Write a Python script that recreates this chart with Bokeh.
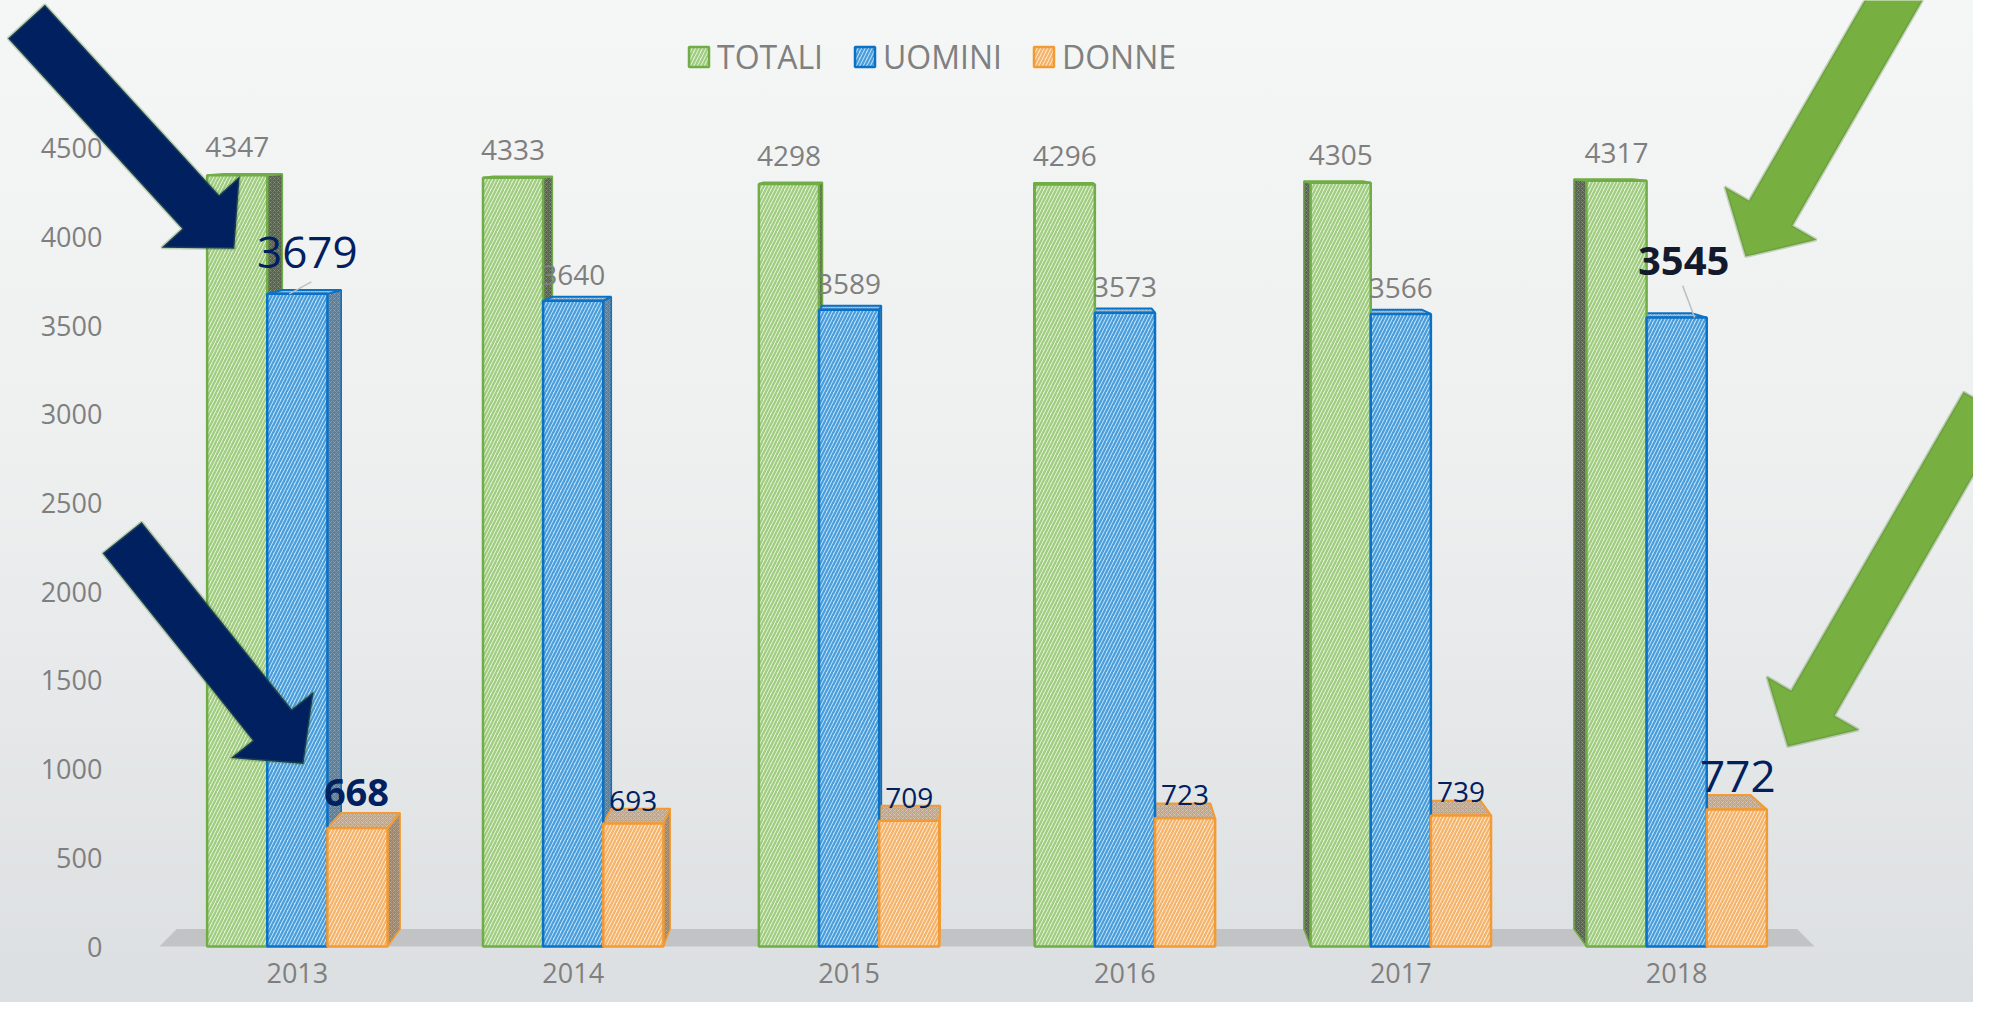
import numpy as np
from bokeh.plotting import figure
from bokeh.models import (ColumnDataSource, FactorRange, Range1d, FixedTicker, PolyAnnotation,
                          LinearAxis, CategoricalAxis)
from bokeh.transform import dodge
from bokeh.core.properties import value
from bokeh.embed import file_html
from bokeh.resources import INLINE

# ---------------- data ----------------
years = ["2013", "2014", "2015", "2016", "2017", "2018"]
totali = [4347, 4333, 4298, 4296, 4305, 4317]
uomini = [3679, 3640, 3589, 3573, 3566, 3545]
donne = [668, 693, 709, 723, 739, 772]
series_names = ["TOTALI", "UOMINI", "DONNE"]
y_ticks = [0, 500, 1000, 1500, 2000, 2500, 3000, 3500, 4000, 4500]

series_values = {"TOTALI": totali, "UOMINI": uomini, "DONNE": donne}

# ---------------- geometry ----------------
W, H = 1973, 1002
PAD = 0.576                       # category padding on each side
PXU = W / (len(years) + 2 * PAD)  # pixels per category unit
PXV = 0.1774                      # pixels per value unit
BASE = 946                        # canvas row of value 0
Y_START = -(H - BASE) / PXV
Y_END = BASE / PXV

GRAY = "#7f7f7f"
NAVY = "#002060"
FONT = "Open Sans"

p = figure(x_range=FactorRange(factors=years, range_padding=PAD, range_padding_units="absolute"),
           y_range=Range1d(Y_START, Y_END),
           width=W, height=H, output_backend="svg", toolbar_location=None,
           x_axis_location=None, y_axis_location=None,
           min_border=0, min_border_left=0, min_border_right=0, min_border_top=0,
           min_border_bottom=0, background_fill_color=None,
           border_fill_color=None, outline_line_color=None)
p.styles = {"background": "linear-gradient(180deg, #f5f6f6 0%, #eef0f0 45%, #dcdfe1 100%)"}

p.xgrid.visible = False
p.ygrid.visible = False

yax = LinearAxis(fixed_location=0, ticker=FixedTicker(ticks=y_ticks))
xax = CategoricalAxis(fixed_location=0)
for ax in (xax, yax):
    ax.axis_line_color = None
    ax.major_tick_line_color = None
    ax.minor_tick_line_color = None
    ax.major_tick_out = 0
    ax.major_tick_in = 0
    ax.major_label_text_font = FONT
    ax.major_label_text_font_size = "27px"
    ax.major_label_text_color = GRAY
yax.major_label_standoff = 57
xax.major_label_standoff = 16
p.add_layout(yax, "left")
p.add_layout(xax, "below")

styles = {
    "TOTALI": dict(line="#70ad47", fill="#e4f1d9", hatch="#9fcc7f", side="#58634e", top="#aebd9e"),
    "UOMINI": dict(line="#0a72c6", fill="#c3e3f8", hatch="#4a9ddb", side="#5d7d96", top="#8fb2cf"),
    "DONNE": dict(line="#f29b35", fill="#fde9d2", hatch="#f5b36a", side="#9e866c", top="#bfa68a"),
}
offs = {"TOTALI": -0.218, "UOMINI": 0.0, "DONNE": 0.218}
BW = 0.218

# simple perspective for the 3D faces
U_VP, V_VP, K = 3.0, 4700.0, 0.021


def back(u, v):
    return u + (U_VP - u) * K, v + (V_VP - v) * K


# floor
n = len(years)
b0 = back(0, 0)
b1 = back(n, 0)
p.patch([0, b0[0], b1[0], n], [0, b0[1], b1[1], 0], fill_color="#c2c3c4", line_color=None)

src = ColumnDataSource(dict(year=years, TOTALI=totali, UOMINI=uomini, DONNE=donne))

# 3D side and top faces
for name in series_names:
    st = styles[name]
    xs_side, ys_side, xs_top, ys_top = [], [], [], []
    for i, v in enumerate(series_values[name]):
        c = i + 0.5 + offs[name]
        l, r = c - BW / 2, c + BW / 2
        lb, tb = back(l, v)
        rb, _ = back(r, v)
        e = r if c < U_VP else l
        eb, zb = back(e, 0)
        xs_side.append([e, e, eb, eb])
        ys_side.append([0, v, tb, zb])
        xs_top.append([l, r, rb, lb])
        ys_top.append([v, v, tb, tb])
    p.patches(xs_side, ys_side, fill_color=st["side"], line_color=st["line"], line_width=1.5,
              hatch_pattern="x", hatch_scale=4, hatch_color="#ffffff", hatch_alpha=0.25,
              hatch_weight=0.7)
    p.patches(xs_top, ys_top, fill_color=st["top"], line_color=st["line"], line_width=2,
              hatch_pattern="x", hatch_scale=4, hatch_color="#ffffff", hatch_alpha=0.35,
              hatch_weight=0.7)

# front faces
for name in series_names:
    st = styles[name]
    p.vbar(x=dodge("year", offs[name], range=p.x_range), top=name, width=BW, source=src,
           fill_color=st["fill"], line_color=st["line"], line_width=2.5,
           hatch_pattern="/", hatch_color=st["hatch"], hatch_scale=7, hatch_weight=2.2,
           legend_label=name)

# ---------------- labels ----------------
default = {"TOTALI": dict(color=GRAY, size=28, bold=False, dx=0, dy=-28),
           "UOMINI": dict(color=GRAY, size=28, bold=False, dx=0, dy=-26),
           "DONNE": dict(color=NAVY, size=28, bold=False, dx=0, dy=-23)}
special = {("UOMINI", 0): dict(color=NAVY, size=44, bold=False, dx=10, dy=-41),
           ("DONNE", 0): dict(color=NAVY, size=38, bold=True, dx=-1, dy=-35),
           ("UOMINI", 5): dict(color="#141a2e", size=40, bold=True, dx=7, dy=-57),
           ("DONNE", 5): dict(color=NAVY, size=44, bold=False, dx=1, dy=-33)}

lab = {False: dict(x=[], y=[], text=[], color=[], size=[], xo=[], yo=[]),
       True: dict(x=[], y=[], text=[], color=[], size=[], xo=[], yo=[])}
for name in series_names:
    for i, v in enumerate(series_values[name]):
        s = special.get((name, i), default[name])
        d = lab[s["bold"]]
        d["x"].append(i + 0.5 + offs[name])
        d["y"].append(v)
        d["text"].append(str(v))
        d["color"].append(s["color"])
        d["size"].append(f'{s["size"]}px')
        d["xo"].append(s["dx"])
        d["yo"].append(s["dy"])

for bold, d in lab.items():
    p.text(x="x", y="y", text="text", source=ColumnDataSource(d), text_color="color",
           text_font_size="size", x_offset="xo", y_offset="yo", text_align="center",
           text_baseline="middle", text_font=value(FONT),
           text_font_style="bold" if bold else "normal")


def px2data(u, v, dx, dy):
    return u + dx / PXU, v - dy / PXV


# leader lines
leaders = [(("UOMINI", 0), (-8, 0), (14, -12)), (("UOMINI", 5), (18, 0), (6, -32))]
lx0, ly0, lx1, ly1 = [], [], [], []
for (name, i), a, b in leaders:
    u, v = i + 0.5 + offs[name], series_values[name][i]
    x0, y0 = px2data(u, v, *a)
    x1, y1 = px2data(u, v, *b)
    lx0.append(x0); ly0.append(y0); lx1.append(x1); ly1.append(y1)
p.segment(lx0, ly0, lx1, ly1, line_color="#bfbfbf", line_width=1.5)

# ---------------- arrows (annotations pointing at highlighted labels) ----------------
GREEN_FILL = "#77b041"
OUTLINE = "#548235"
arrows = [(("UOMINI", 0), (-63, -45), (0.675, 0.738), 258, NAVY),
          (("DONNE", 0), (-54, -64), (0.625, 0.78), 240, NAVY),
          (("UOMINI", 5), (69, -61), (-0.5, 0.866), 290, GREEN_FILL),
          (("DONNE", 5), (51, -63), (-0.5, 0.866), 345, GREEN_FILL)]
SHAFT_W, HEAD_W, HEAD_L = 50, 106, 50
for (name, i), tip, direction, shaft, col in arrows:
    dx, dy = np.array(direction) / np.hypot(*direction)
    px, py = -dy, dx
    tx, ty = tip
    pts = [(0, 0),
           (-HEAD_L * dx + HEAD_W / 2 * px, -HEAD_L * dy + HEAD_W / 2 * py),
           (-HEAD_L * dx + SHAFT_W / 2 * px, -HEAD_L * dy + SHAFT_W / 2 * py),
           (-(HEAD_L + shaft) * dx + SHAFT_W / 2 * px, -(HEAD_L + shaft) * dy + SHAFT_W / 2 * py),
           (-(HEAD_L + shaft) * dx - SHAFT_W / 2 * px, -(HEAD_L + shaft) * dy - SHAFT_W / 2 * py),
           (-HEAD_L * dx - SHAFT_W / 2 * px, -HEAD_L * dy - SHAFT_W / 2 * py),
           (-HEAD_L * dx - HEAD_W / 2 * px, -HEAD_L * dy - HEAD_W / 2 * py)]
    u, v = i + 0.5 + offs[name], series_values[name][i]
    xs, ys = [], []
    for a, b in pts:
        xx, yy = px2data(u, v, tx + a, ty + b)
        xs.append(float(xx)); ys.append(float(yy))
    p.add_layout(PolyAnnotation(xs=xs, ys=ys, fill_color=col, fill_alpha=1.0,
                                line_color=OUTLINE, line_width=3, level="overlay"))

# ---------------- legend ----------------
lg = p.legend[0]
lg.orientation = "horizontal"
lg.location = (686, 924)
lg.label_text_font = FONT
lg.label_text_font_size = "32px"
lg.label_text_color = "#808080"
lg.glyph_width = 25
lg.glyph_height = 25
lg.spacing = 29
lg.label_standoff = 6
lg.padding = 0
lg.margin = 0
lg.border_line_color = None
lg.background_fill_alpha = 0

open("out.html", "w").write(file_html(p, INLINE))
